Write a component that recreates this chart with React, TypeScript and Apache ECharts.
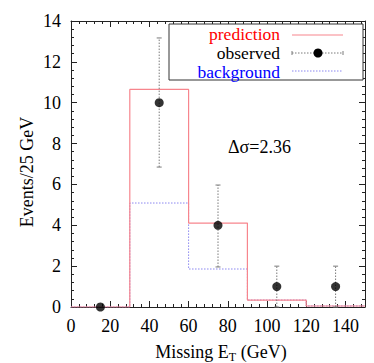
import React, { useEffect, useRef } from 'react';
import * as echarts from 'echarts';

// ---- data ----
const binEdges = [0, 30, 60, 90, 120, 150];
const prediction = [0, 10.65, 4.11, 0.34, 0.05];
const background = [0, 5.09, 1.86, 0.34, 0.05];
const obsX = [15, 45, 75, 105, 135];
const obsY = [0, 10, 4, 1, 1];
const errLow = [0, 6.85, 1.96, 0, 0];
const errHigh = [0, 13.17, 5.97, 2.0, 2.0];
const legendNames = ['prediction', 'observed', 'background'];
const annotation = 'Δσ=2.36';

const FONT = 'Liberation Serif';
const RED = '#f7858d';
const BLUE = '#8a86f0';
const GREY = '#7a7a7a';

function stepPoints(vals: number[]) {
  const pts: number[][] = [];
  vals.forEach((v, i) => {
    pts.push([binEdges[i], v]);
    pts.push([binEdges[i + 1], v]);
  });
  return pts;
}

function txt(x: number, y: number, text: string, fill: string, align: string, extra: any = {}, size = 18) {
  return {
    type: 'text',
    x,
    y,
    ...extra,
    style: {
      text,
      fill,
      fontFamily: FONT,
      fontSize: size,
      lineHeight: size,
      textAlign: align,
      textVerticalAlign: 'middle',
    },
    z: 11,
  };
}

export default function App() {
  const ref = useRef<HTMLDivElement>(null);
  useEffect(() => {
    if (!ref.current) return;
    const chart = echarts.init(ref.current, null, { renderer: 'svg' });

    const axisCommon = {
      type: 'value',
      axisLine: { show: true, onZero: false, lineStyle: { color: '#222', width: 1 } },
      axisTick: { show: true, inside: true, length: 6, lineStyle: { color: '#222' } },
      minorTick: { show: true, splitNumber: 5, length: 3, lineStyle: { color: '#222' } },
      splitLine: { show: false },
      minorSplitLine: { show: false },
    };

    const labelStyle = { fontFamily: FONT, fontSize: 18, color: '#000' };

    const option: any = {
      animation: false,
      grid: { left: 71, right: 9, top: 21, bottom: 56, containLabel: false },
      xAxis: [
        {
          ...axisCommon,
          position: 'bottom',
          min: 0,
          max: 150,
          interval: 20,
          axisLabel: { ...labelStyle, margin: 10, showMaxLabel: false },
        },
        {
          ...axisCommon,
          position: 'top',
          min: 0,
          max: 150,
          interval: 20,
          axisLabel: { show: false },
        },
      ],
      yAxis: [
        {
          ...axisCommon,
          position: 'left',
          min: 0,
          max: 14,
          interval: 2,
          axisLabel: { ...labelStyle, margin: 10 },
        },
        {
          ...axisCommon,
          position: 'right',
          min: 0,
          max: 14,
          interval: 2,
          axisLabel: { show: false },
        },
      ],
      series: [
        {
          name: 'background',
          type: 'line',
          data: stepPoints(background),
          showSymbol: false,
          symbol: 'none',
          lineStyle: { color: BLUE, width: 1, type: [1.5, 1.5] },
          z: 3,
        },
        {
          name: 'prediction',
          type: 'line',
          data: stepPoints(prediction),
          showSymbol: false,
          symbol: 'none',
          lineStyle: { color: RED, width: 1.2 },
          z: 4,
        },
        {
          name: 'errors',
          type: 'custom',
          data: obsX.map((x, i) => [x, errLow[i], errHigh[i]]),
          renderItem: (params: any, api: any) => {
            const x = api.value(0);
            const lo = api.value(1);
            const hi = api.value(2);
            if (hi <= lo) return null;
            const pLo = api.coord([x, lo]);
            const pHi = api.coord([x, hi]);
            const style = { stroke: GREY, lineWidth: 1, lineDash: [1.5, 1.5], fill: 'none' };
            return {
              type: 'group',
              children: [
                { type: 'line', shape: { x1: pLo[0], y1: pLo[1], x2: pHi[0], y2: pHi[1] }, style },
                { type: 'line', shape: { x1: pHi[0] - 2.5, y1: pHi[1], x2: pHi[0] + 2.5, y2: pHi[1] }, style: { stroke: GREY, lineWidth: 1 } },
                { type: 'line', shape: { x1: pLo[0] - 2.5, y1: pLo[1], x2: pLo[0] + 2.5, y2: pLo[1] }, style: { stroke: GREY, lineWidth: 1 } },
              ],
            };
          },
          clip: false,
          z: 5,
        },
        {
          name: 'observed',
          type: 'scatter',
          data: obsX.map((x, i) => [x, obsY[i]]),
          symbol: 'circle',
          symbolSize: 9,
          itemStyle: { color: '#000' },
          clip: false,
          z: 6,
        },
      ],
      graphic: [
        {
          type: 'rect',
          shape: { x: 169, y: 24, width: 194, height: 56 },
          style: { fill: '#fff', stroke: '#333', lineWidth: 1 },
          z: 10,
        },
        txt(280, 34, legendNames[0], '#ff0000', 'right', {}, 17.5),
        {
          type: 'line',
          shape: { x1: 292, y1: 35, x2: 343, y2: 35 },
          style: { stroke: RED, lineWidth: 1.2 },
          z: 11,
        },
        txt(280, 53, legendNames[1], '#000', 'right', {}, 17.5),
        {
          type: 'line',
          shape: { x1: 292, y1: 53, x2: 343, y2: 53 },
          style: { stroke: GREY, lineWidth: 1, lineDash: [1.5, 1.5] },
          z: 11,
        },
        {
          type: 'line',
          shape: { x1: 292, y1: 51, x2: 292, y2: 55 },
          style: { stroke: GREY, lineWidth: 1 },
          z: 11,
        },
        {
          type: 'line',
          shape: { x1: 343, y1: 51, x2: 343, y2: 55 },
          style: { stroke: GREY, lineWidth: 1 },
          z: 11,
        },
        {
          type: 'circle',
          shape: { cx: 318, cy: 53, r: 4.5 },
          style: { fill: '#000' },
          z: 12,
        },
        txt(280, 72, legendNames[2], '#0000ff', 'right', {}, 17.5),
        {
          type: 'line',
          shape: { x1: 292, y1: 71, x2: 343, y2: 71 },
          style: { stroke: BLUE, lineWidth: 1, lineDash: [1.5, 1.5] },
          z: 11,
        },
        txt(228, 147, annotation, '#000', 'left'),
        txt(27, 172, 'Events/25 GeV', '#000', 'center', { rotation: Math.PI / 2 }),
        {
          type: 'text',
          x: 221,
          y: 352,
          style: {
            text: '{a|Missing E}{s|T}{a| (GeV)}',
            textAlign: 'center',
            textVerticalAlign: 'middle',
            rich: {
              a: { fontFamily: FONT, fontSize: 18, fill: '#000', color: '#000', lineHeight: 22 },
              s: { fontFamily: FONT, fontSize: 12, fill: '#000', color: '#000', lineHeight: 12, verticalAlign: 'bottom' },
            },
          },
          z: 11,
        },
      ],
    };
    chart.setOption(option);
    return () => chart.dispose();
  }, []);
  return (
    <div
      ref={ref}
      style={{ position: 'absolute', left: 0, top: 0, width: 374, height: 363, background: '#fff' }}
    />
  );
}
